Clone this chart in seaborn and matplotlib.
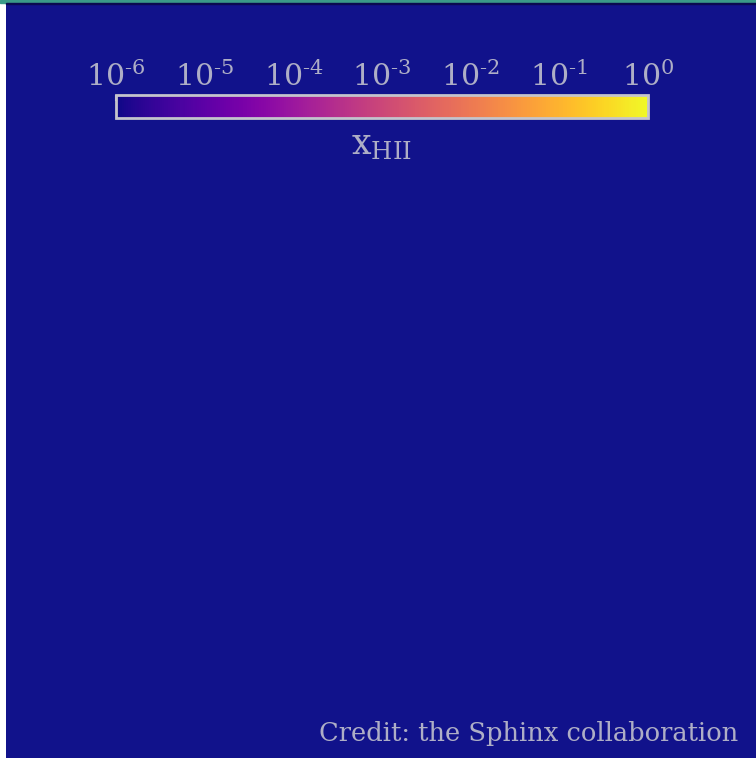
import numpy as np
import matplotlib
matplotlib.use("Agg")
import matplotlib.pyplot as plt
from matplotlib.colors import LogNorm
from matplotlib.patches import Rectangle
import seaborn as sns

# Ionised hydrogen fraction of the rendered slab (fully neutral at this epoch,
# below the lower end of the colour scale)
x_hii = [
    [1e-8, 1e-8, 1e-8, 1e-8],
    [1e-8, 1e-8, 1e-8, 1e-8],
    [1e-8, 1e-8, 1e-8, 1e-8],
    [1e-8, 1e-8, 1e-8, 1e-8],
]
cbar_ticks = [1e-6, 1e-5, 1e-4, 1e-3, 1e-2, 1e-1, 1e0]
cbar_ticklabels = [r"$10^{\text{-}6}$", r"$10^{\text{-}5}$", r"$10^{\text{-}4}$",
                   r"$10^{\text{-}3}$", r"$10^{\text{-}2}$", r"$10^{\text{-}1}$",
                   r"$10^{0}$"]
cbar_label = r"$\mathrm{x}_{\mathrm{HII}}$"
credit = "Credit: the Sphinx collaboration"

sns.set_style("white")
plt.rcParams["font.family"] = ["DejaVu Serif"]
plt.rcParams["mathtext.fontset"] = "dejavuserif"

W, H = 756, 758
fig = plt.figure(figsize=(W / 100, H / 100), dpi=100, facecolor="white")

ax = fig.add_axes([6 / W, 0, 1 - 6 / W, (H - 4) / H])
cax = fig.add_axes([116 / W, 1 - 118 / H, (648 - 116) / W, 23 / H])

text_col = "#aeaec6"
frame_col = "#c4c4cc"

cmap = plt.get_cmap("plasma").copy()
cmap.set_under("#11128b")

sns.heatmap(np.array(x_hii), ax=ax, cmap=cmap,
            norm=LogNorm(vmin=1e-6, vmax=1.0),
            cbar_ax=cax, cbar_kws={"orientation": "horizontal"},
            xticklabels=False, yticklabels=False)
ax.set_axis_off()

cbar = ax.collections[0].colorbar
cbar.set_ticks(cbar_ticks)
cbar.set_ticklabels(cbar_ticklabels)
cbar.minorticks_off()
cax.xaxis.set_ticks_position("top")
cax.xaxis.set_label_position("top")
cax.tick_params(axis="x", direction="in", length=4, width=1.5,
                color=frame_col, labelcolor=text_col, labelsize=21.5, pad=2.5)
cbar.outline.set_edgecolor(frame_col)
cbar.outline.set_linewidth(2)
fig.text(382 / W, 1 - 145 / H, cbar_label, color=text_col, fontsize=25,
         ha="center", va="center")

fig.text(738 / W, 1 - 733 / H, credit, color=text_col, fontsize=18.5,
         ha="right", va="center")

# thin strip along the top edge
fig.patches.append(Rectangle((0, 1 - 3 / H), 1, 3 / H, transform=fig.transFigure,
                             color="#3a9a88", zorder=5))
fig.patches.append(Rectangle((6 / W, 1 - 4 / H), 1, 1 / H, transform=fig.transFigure,
                             color="#0a0a50", zorder=5))

fig.savefig("out.png", dpi=100, facecolor="white")
